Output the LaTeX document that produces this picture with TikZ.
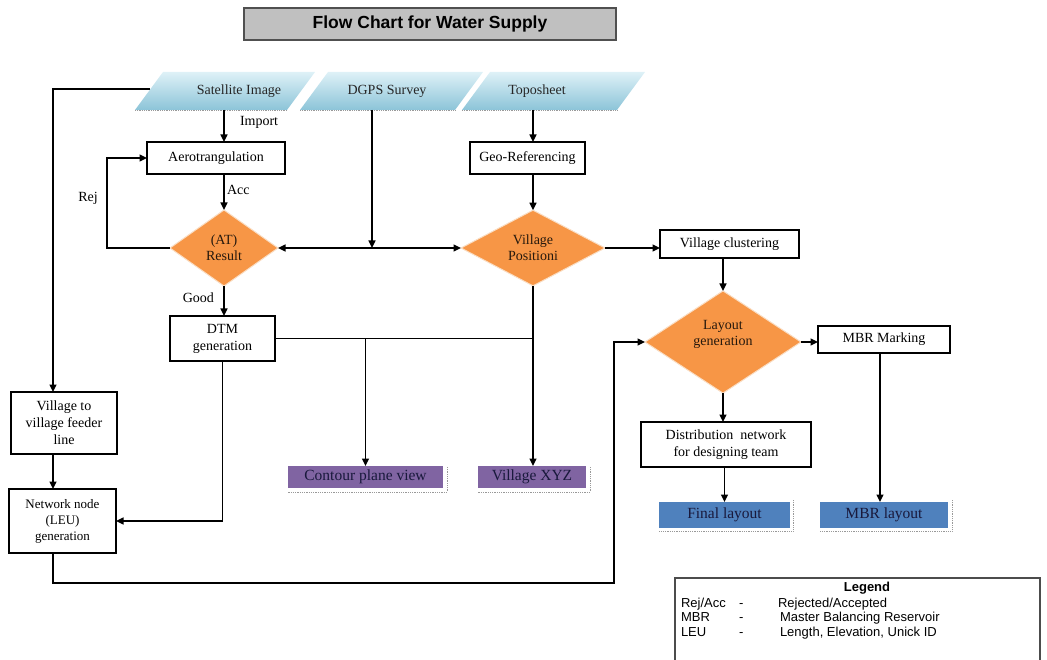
\documentclass[tikz,border=0pt]{standalone}
\usepackage{fontspec}
\setmainfont{Liberation Serif}
\newfontfamily\arialf{Liberation Sans}
\usetikzlibrary{shapes.geometric,arrows.meta,calc}
\definecolor{dorange}{RGB}{247,150,70}
\definecolor{dedge}{RGB}{250,222,196}
\definecolor{purpleB}{RGB}{128,100,162}
\definecolor{blueB}{RGB}{79,129,189}
\definecolor{titleG}{RGB}{192,192,192}
\definecolor{titleB}{RGB}{80,80,80}
\definecolor{paraTop}{RGB}{222,241,247}
\definecolor{paraBot}{RGB}{140,196,216}
\definecolor{navytxt}{RGB}{25,25,60}
\begin{document}
\begin{tikzpicture}[x=1pt,y=-1pt,
  every node/.style={inner sep=0pt, outer sep=0pt},
  box/.style={draw=black, line width=1.3pt, fill=white, font=\fontsize{14}{17}\selectfont, align=center},
  dia/.style={diamond, fill=dorange, draw=dedge, line width=1pt, font=\fontsize{14}{16}\selectfont, align=center, text=black!80!brown},
  outbox/.style={font=\fontsize{15.5}{17}\selectfont, text=navytxt},
  arr/.style={line width=1.5pt, -{Triangle[length=7.5pt,width=7pt]}},
  thinarr/.style={line width=1.1pt, -{Triangle[length=7.5pt,width=7pt]}},
  both/.style={line width=1.5pt, {Triangle[length=7.5pt,width=7pt]}-{Triangle[length=7.5pt,width=7pt]}},
  ptext/.style={font=\fontsize{14}{17}\selectfont, minimum height=38pt, text=black!85},
  lab/.style={font=\fontsize{14}{17}\selectfont},
  leg/.style={font=\arialf\fontsize{13}{15}\selectfont, anchor=base west},
  shadowline/.style={densely dotted, line width=0.8pt, draw=black!40}
]
\useasboundingbox (0,0) rectangle (1047,660);

% title
\node[draw=titleB, line width=1.3pt, fill=titleG, minimum width=372pt, minimum height=32pt,
      font=\arialf\bfseries\fontsize{17.5}{20}\selectfont] (title) at (430,24) {Flow Chart for Water Supply};

% input parallelograms
\shade[top color=paraTop, bottom color=paraBot] (163,72) -- (315,72) -- (287,110) -- (135,110) -- cycle;
\shade[top color=paraTop, bottom color=paraBot] (328,72) -- (483,72) -- (455,110) -- (300,110) -- cycle;
\shade[top color=paraTop, bottom color=paraBot] (490,72) -- (645,72) -- (617,110) -- (462,110) -- cycle;
\draw[shadowline] (135,110.5) -- (287,110.5);
\draw[shadowline] (300,110.5) -- (455,110.5);
\draw[shadowline] (462,110.5) -- (617,110.5);
\node[ptext] (sat) at (239,91) {Satellite Image};
\node[ptext] (dgps) at (387,91) {DGPS Survey};
\node[ptext] (topo) at (537,91) {Toposheet};

% process boxes
\node[box, minimum width=138pt, minimum height=32pt] (aero) at (216,158) {Aerotrangulation};
\node[box, minimum width=115pt, minimum height=32pt] (geo) at (527.5,158) {Geo-Referencing};
\node[box, minimum width=105pt, minimum height=45pt] (dtm) at (222.5,338.5) {DTM\\generation};
\node[box, minimum width=139pt, minimum height=28pt] (vclus) at (729.5,244) {Village clustering};
\node[box, minimum width=132pt, minimum height=27pt] (mbrm) at (884,339.5) {MBR Marking};
\node[box, minimum width=170pt, minimum height=45pt] (dist) at (726,444.5) {Distribution\ \ network\\for designing team};
\node[box, minimum width=106pt, minimum height=62pt] (feeder) at (64,423) {Village to\\village feeder\\line};
\node[box, minimum width=107pt, minimum height=64pt, font=\fontsize{13}{16}\selectfont] (netnode) at (62.5,521) {Network node\\(LEU)\\generation};

% decisions
\node[dia, minimum width=108pt, minimum height=76pt] (atr) at (224,248) {(AT)\\Result};
\node[dia, minimum width=144pt, minimum height=72pt] (vpos) at (533,248) {Village\\Positioni};
\node[dia, minimum width=156pt, minimum height=94pt] (layout) at (723,342) {Layout\\generation\\[2pt]};

% outputs
\draw[shadowline] (447,467) -- (447,492) -- (288,492);
\draw[shadowline] (590,467) -- (590,492) -- (478,492);
\draw[shadowline] (793,500) -- (793,531) -- (659,531);
\draw[shadowline] (952,500) -- (952,531) -- (820,531);
\node[outbox, fill=purpleB, minimum width=155pt, minimum height=22pt] (contour) at (365.5,477) {Contour plane view};
\node[outbox, fill=purpleB, minimum width=108pt, minimum height=22pt] (vxyz) at (532,477) {Village XYZ};
\node[outbox, fill=blueB, minimum width=131pt, minimum height=26pt] (final) at (724.5,515) {Final layout};
\node[outbox, fill=blueB, minimum width=128pt, minimum height=26pt] (mbrl) at (884,515) {MBR layout};

% helper coordinates
\coordinate (satL) at (150,89);
\coordinate (lx) at (53,392);
\coordinate (rx) at (107,248);
\coordinate (dj) at (372,248);
\coordinate (br) at (614,583);

% connectors
\draw[arr] ([xshift=-15pt]sat.south) -- ([xshift=-15pt]sat.south |- aero.north);
\node[lab, anchor=west] (import) at (240,122) {Import};
\draw[arr] (aero.south -| atr.north) -- (atr.north);
\node[lab, anchor=west] (acc) at (227,190) {Acc};
\draw[arr] (atr.west) -- (rx) |- (aero.west);
\node[lab] (rej) at (88,198) {Rej};
\draw[arr] (atr.south) -- (atr.south |- dtm.north);
\node[lab, anchor=east] (good) at (214,298) {Good};
\draw[both] (atr.east) -- (vpos.west);
\draw[arr] (dgps.south -| dj) -- (dj);
\draw[arr] (topo.south -| vpos.north) -- (geo.north -| vpos.north);
\draw[arr] (geo.south -| vpos.north) -- (vpos.north);
\draw[arr] (vpos.east) -- (vpos.east -| vclus.west);
\draw[arr] (vclus.south -| layout.north) -- (layout.north);
\draw[arr] (layout.east) -- (layout.east -| mbrm.west);
\draw[arr] (layout.south) -- (layout.south |- dist.north);
\draw[arr] (dist.south -| final.north) -- (final.north);
\draw[arr] ([xshift=-4pt]mbrm.south) -- ([xshift=-4pt]mbrm.south |- mbrl.north);
\draw[line width=1.1pt] (dtm.east) -- (dtm.east -| vpos.south);
\draw[arr] (contour.north |- dtm.east) -- (contour.north);
\draw[arr] (vpos.south) -- (vpos.south |- vxyz.north);
\draw[arr] (dtm.south) |- (netnode.east);
\draw[arr] (satL) -| (lx);
\draw[arr] (feeder.south -| lx) -- (netnode.north -| lx);
\draw[thinarr] (netnode.south -| lx) |- (br) |- (layout.west);

% legend
\begin{scope}
\clip (0,0) rectangle (1047,660);
\draw[line width=1.2pt, draw=black!70] (675,700) -- (675,578) -- (1040,578) -- (1040,700);
\end{scope}
\node[font=\arialf\bfseries\fontsize{13}{15}\selectfont] (legt) at (867,588) {Legend};
\node[leg] (l1a) at (681,607) {Rej/Acc};
\node[leg] (l1b) at (739,607) {-};
\node[leg] (l1c) at (778,607) {Rejected/Accepted};
\node[leg] (l2a) at (681,621) {MBR};
\node[leg] (l2b) at (739,621) {-};
\node[leg] (l2c) at (780,621) {Master Balancing Reservoir};
\node[leg] (l3a) at (681,636) {LEU};
\node[leg] (l3b) at (739,636) {-};
\node[leg] (l3c) at (780,636) {Length, Elevation, Unick ID};
\end{tikzpicture}
\end{document}
